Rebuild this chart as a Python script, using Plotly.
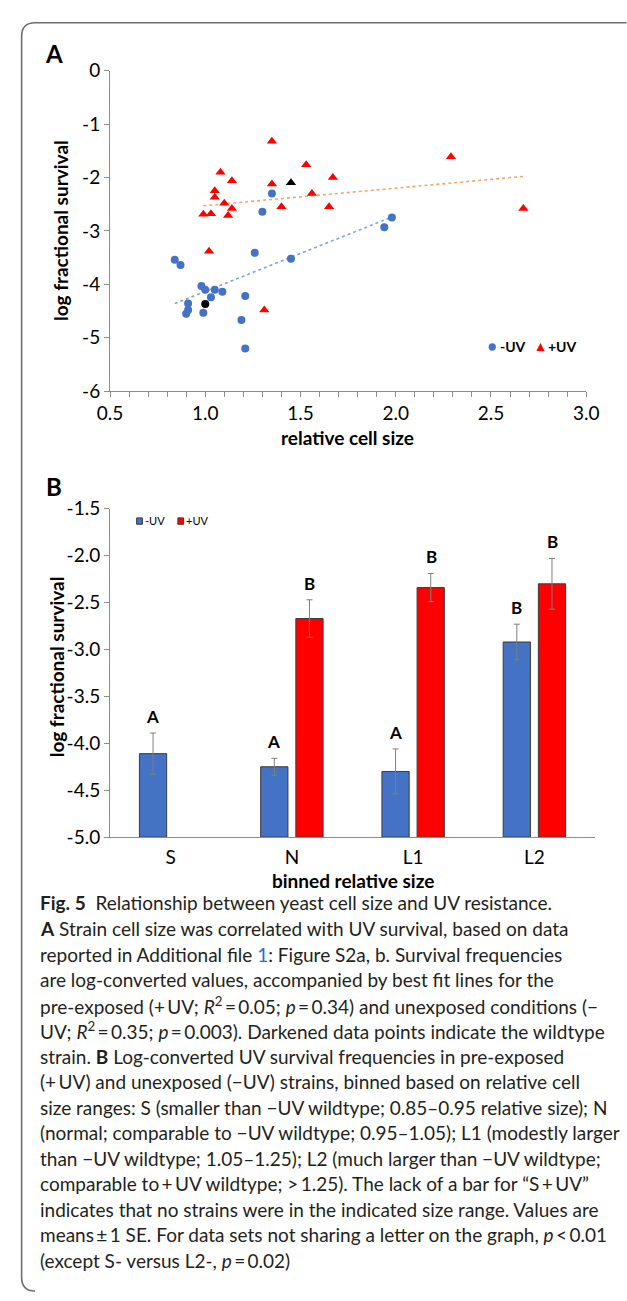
import plotly.graph_objects as go

W, H = 627, 1301

# ---------------- Panel A data ----------------
minus_uv_size = [1.35, 1.30, 1.98, 1.94, 0.84, 0.87, 1.26, 1.45, 0.98, 1.00,
                 1.05, 1.09, 1.03, 1.21, 0.91, 0.91, 0.90, 0.99, 1.19, 1.21]
minus_uv_surv = [-2.30, -2.64, -2.75, -2.93, -3.54, -3.64, -3.41, -3.52, -4.03, -4.10,
                 -4.10, -4.14, -4.24, -4.22, -4.36, -4.48, -4.55, -4.53, -4.67, -5.20]
plus_uv_size = [1.35, 1.08, 1.14, 1.53, 1.67, 1.35, 1.05, 1.05, 1.56, 1.10,
                1.14, 1.40, 1.65, 0.99, 1.03, 1.12, 2.29, 2.67, 1.02, 1.31]
plus_uv_surv = [-1.32, -1.90, -2.06, -1.76, -2.00, -2.12, -2.25, -2.37, -2.30, -2.48,
                -2.58, -2.55, -2.55, -2.69, -2.68, -2.71, -1.61, -2.58, -3.38, -4.48]
wt_minus_size = [1.00]
wt_minus_surv = [-4.37]
wt_plus_size = [1.45]
wt_plus_surv = [-2.10]
trend_minus_size = [0.84, 1.98]
trend_minus_surv = [-4.36, -2.74]
trend_plus_size = [0.99, 2.67]
trend_plus_surv = [-2.53, -1.98]
a_xticks = [0.5, 1.0, 1.5, 2.0, 2.5, 3.0]
a_yticks = [0, -1, -2, -3, -4, -5, -6]
a_yticktext = ["0", "-1", "-2", "-3", "-4", "-5", "-6"]

# ---------------- Panel B data ----------------
size_bins = ["S", "N", "L1", "L2"]
minus_mean = [-4.11, -4.25, -4.30, -2.92]
minus_se = [0.22, 0.09, 0.24, 0.19]
plus_mean = [None, -2.67, -2.34, -2.30]
plus_se = [0.0, 0.20, 0.15, 0.27]
minus_letters = ["A", "A", "A", "B"]
plus_letters = ["", "B", "B", "B"]
b_base = -5.0
b_yticks = [-1.5, -2.0, -2.5, -3.0, -3.5, -4.0, -4.5, -5.0]
b_yticktext = ["-1.5", "-2.0", "-2.5", "-3.0", "-3.5", "-4.0", "-4.5", "-5.0"]

caption_lines = [
    "<b>Fig. 5</b>  Relationship between yeast cell size and UV resistance.",
    "<b>A</b> Strain cell size was correlated with UV survival, based on data",
    "reported in Additional file <span style='color:#2a6ebb'>1</span>: Figure S2a, b. Survival frequencies",
    "are log-converted values, accompanied by best fit lines for the",
    "pre-exposed (+\u2009UV; <i>R</i><sup>2</sup>\u2009=\u20090.05; <i>p</i>\u2009=\u20090.34) and unexposed conditions (\u2212",
    "UV; <i>R</i><sup>2</sup>\u2009=\u20090.35; <i>p</i>\u2009=\u20090.003). Darkened data points indicate the wildtype",
    "strain. <b>B</b> Log-converted UV survival frequencies in pre-exposed",
    "(+\u2009UV) and unexposed (\u2212UV) strains, binned based on relative cell",
    "size ranges: S (smaller than \u2212UV wildtype; 0.85\u20130.95 relative size); N",
    "(normal; comparable to \u2212UV wildtype; 0.95\u20131.05); L1 (modestly larger",
    "than \u2212UV wildtype; 1.05\u20131.25); L2 (much larger than \u2212UV wildtype;",
    "comparable to\u2009+\u2009UV wildtype; &gt;\u20091.25). The lack of a bar for \u201cS\u2009+\u2009UV\u201d",
    "indicates that no strains were in the indicated size range. Values are",
    "means\u2009\u00b1\u20091 SE. For data sets not sharing a letter on the graph, <i>p</i>\u2009&lt;\u20090.01",
    "(except S- versus L2-, <i>p</i>\u2009=\u20090.02)",
]

BLUE = "#4472C4"
RED = "#FF0000"
AXC = "#8c8c8c"
FONT = "Lato, Carlito, 'Liberation Sans', sans-serif"


def px(x):
    return x / W


def py(y):
    return 1 - y / H


def ptext(x, y, text, size, xanchor="center", yanchor="middle", angle=0, color="black"):
    return dict(x=px(x), y=py(y), xref="paper", yref="paper", text=text, showarrow=False,
                xanchor=xanchor, yanchor=yanchor, textangle=angle,
                font=dict(family=FONT, size=size, color=color))


fig = go.Figure()

# ---- Panel A traces ----
fig.add_trace(go.Scatter(x=trend_minus_size, y=trend_minus_surv, mode="lines",
                         line=dict(color="#7fa2de", width=1.6, dash="dot"),
                         xaxis="x", yaxis="y", showlegend=False, hoverinfo="skip"))
fig.add_trace(go.Scatter(x=trend_plus_size, y=trend_plus_surv, mode="lines",
                         line=dict(color="#F4A46A", width=1.6, dash="dot"),
                         xaxis="x", yaxis="y", showlegend=False, hoverinfo="skip"))
fig.add_trace(go.Scatter(x=minus_uv_size, y=minus_uv_surv, mode="markers", name="-UV",
                         marker=dict(symbol="circle", size=8, color=BLUE),
                         xaxis="x", yaxis="y", showlegend=False))
fig.add_trace(go.Scatter(x=plus_uv_size, y=plus_uv_surv, mode="markers", name="+UV",
                         marker=dict(symbol="triangle-up", size=9, color=RED),
                         xaxis="x", yaxis="y", showlegend=False))
fig.add_trace(go.Scatter(x=wt_minus_size, y=wt_minus_surv, mode="markers", name="wildtype -UV",
                         marker=dict(symbol="circle", size=8, color="black"),
                         xaxis="x", yaxis="y", showlegend=False))
fig.add_trace(go.Scatter(x=wt_plus_size, y=wt_plus_surv, mode="markers", name="wildtype +UV",
                         marker=dict(symbol="triangle-up", size=9, color="black"),
                         xaxis="x", yaxis="y", showlegend=False))

# ---- Panel B traces ----
fig.add_trace(go.Bar(x=size_bins, y=[m - b_base for m in minus_mean], base=b_base,
                     name="-UV", marker=dict(color=BLUE, line=dict(color="#3a3a3a", width=1)),
                     error_y=dict(type="data", array=minus_se, color="#7f7f7f", thickness=1, width=3),
                     xaxis="x2", yaxis="y2", showlegend=False))
fig.add_trace(go.Bar(x=size_bins, y=[None if m is None else m - b_base for m in plus_mean], base=b_base,
                     name="+UV", marker=dict(color=RED, line=dict(color="#3a3a3a", width=1)),
                     error_y=dict(type="data", array=plus_se, color="#7f7f7f", thickness=1, width=3),
                     xaxis="x2", yaxis="y2", showlegend=False))

annotations = []
# letters above error bars
for cat, m, s, t in zip(size_bins, minus_mean, minus_se, minus_letters):
    if t:
        annotations.append(dict(x=cat, y=m + s, xref="x2", yref="y2", text=f"<b>{t}</b>", showarrow=False,
                                xshift=-18, yshift=4, xanchor="center", yanchor="bottom",
                                font=dict(family=FONT, size=17, color="black")))
for cat, m, s, t in zip(size_bins, plus_mean, plus_se, plus_letters):
    if t and m is not None:
        annotations.append(dict(x=cat, y=m + s, xref="x2", yref="y2", text=f"<b>{t}</b>", showarrow=False,
                                xshift=18, yshift=4, xanchor="center", yanchor="bottom",
                                font=dict(family=FONT, size=17, color="black")))

# panel labels
annotations.append(ptext(43, 42, "<b>A</b>", 24))
annotations.append(ptext(43, 483, "<b>B</b>", 24))

# axis titles
annotations += [
    ptext(49, 222, "<b>log fractional survival</b>", 19, angle=-90),
    ptext(349, 433, "<b>relative cell size</b>", 19),
    ptext(45, 667, "<b>log fractional survival</b>", 19, angle=-90),
    ptext(355, 884, "<b>binned relative size</b>", 19),
]

# manual legends
annotations += [
    ptext(506, 341, "<b>-UV</b>", 14, xanchor="left"),
    ptext(556, 341, "<b>+UV</b>", 14, xanchor="left"),
    ptext(135.5, 518, "-UV", 11, xanchor="left"),
    ptext(178.5, 518, "+UV", 11, xanchor="left"),
]

# caption
for i, line in enumerate(caption_lines):
    annotations.append(ptext(26, 907 + 26 * i, line, 19, xanchor="left", color="#231f20"))

shapes = [
    # outer frame (rounded)
    dict(type="path", xref="paper", yref="paper",
         path=f"M {px(640)},{py(11)} L {px(23)},{py(11)} Q {px(9)},{py(11)} {px(9)},{py(25)} "
              f"L {px(9)},{py(1288)} Q {px(9)},{py(1302)} {px(23)},{py(1302)}",
         line=dict(color="#6e6e6e", width=1.6)),
    # scatter legend symbols
    dict(type="circle", xref="paper", yref="paper",
         x0=px(496.2), x1=px(503.8), y0=py(337.2), y1=py(344.8),
         fillcolor=BLUE, line=dict(width=0)),
    dict(type="path", xref="paper", yref="paper",
         path=f"M {px(546)},{py(345)} L {px(554.5)},{py(345)} L {px(550.25)},{py(337)} Z",
         fillcolor=RED, line=dict(width=0)),
    # bar legend symbols
    dict(type="rect", xref="paper", yref="paper",
         x0=px(129), x1=px(135), y0=py(515), y1=py(521.5),
         fillcolor=BLUE, line=dict(color="#3a3a3a", width=1)),
    dict(type="rect", xref="paper", yref="paper",
         x0=px(172), x1=px(178), y0=py(515), y1=py(521.5),
         fillcolor=RED, line=dict(color="#3a3a3a", width=1)),
]

tickfont = dict(family=FONT, size=19, color="black")

fig.update_layout(
    width=W, height=H, autosize=False,
    margin=dict(l=0, r=0, t=0, b=0),
    paper_bgcolor="white", plot_bgcolor="white",
    showlegend=False,
    barmode="group", bargap=0.42, bargroupgap=0.225,
    xaxis=dict(domain=[px(101.2), px(598)], range=[0.5, 3.0], anchor="y",
               tickvals=a_xticks, tickformat=".1f", ticks="outside", ticklen=5,
               tickcolor=AXC, showline=True, linecolor=AXC, linewidth=1,
               showgrid=False, zeroline=False, tickfont=tickfont,
               minor=dict(dtick=0.1, tick0=0.5, ticks="outside", ticklen=5, tickcolor=AXC, showgrid=False)),
    yaxis=dict(domain=[py(386), py(59.7)], range=[-6, 0], anchor="x",
               tickvals=a_yticks, ticktext=a_yticktext, ticks="outside", ticklen=5,
               tickcolor=AXC, showline=True, linecolor=AXC, linewidth=1,
               showgrid=False, zeroline=False, tickfont=tickfont),
    xaxis2=dict(domain=[px(101.2), px(607.2)], anchor="y2", type="category",
                showline=True, linecolor=AXC, linewidth=1, ticks="",
                showgrid=False, zeroline=False, tickfont=tickfont, ticklabelstandoff=3),
    yaxis2=dict(domain=[py(840), py(505.7)], range=[-5.0, -1.5], anchor="x2",
                tickvals=b_yticks, ticktext=b_yticktext, ticks="outside", ticklen=5,
                tickcolor=AXC, showline=True, linecolor=AXC, linewidth=1,
                showgrid=False, zeroline=False, tickfont=tickfont),
    annotations=annotations,
    shapes=shapes,
)

fig.write_html("out.html",
               config={"displayModeBar": False},
               post_script="document.body.style.margin='0';"
                           "document.documentElement.style.overflow='hidden';")
